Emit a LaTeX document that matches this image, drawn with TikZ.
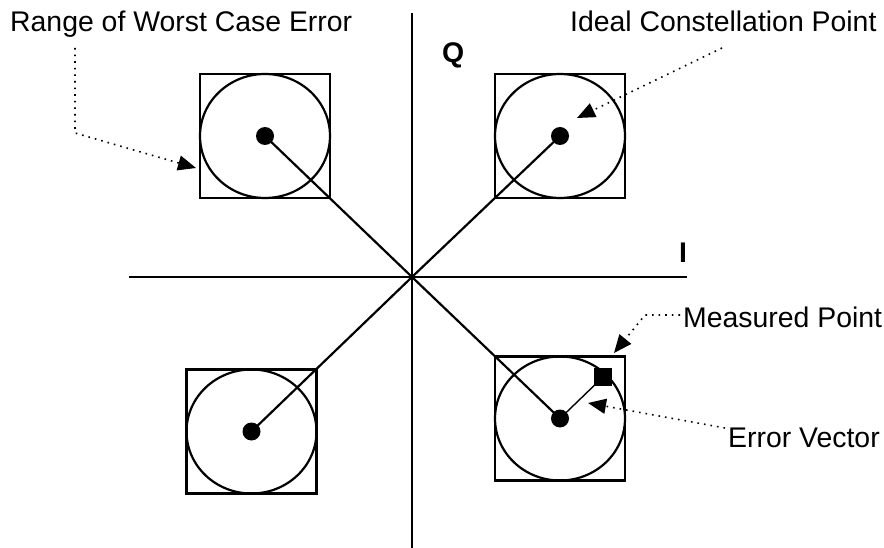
\documentclass[tikz,border=0pt]{standalone}
\usepackage{fontspec}
\setmainfont{Liberation Sans}
\usetikzlibrary{arrows.meta}
\begin{document}
\begin{tikzpicture}[x=1pt,y=-1pt,
  lbl/.style={anchor=base west,inner sep=0pt,font=\fontsize{28.4}{34}\selectfont},
  axis/.style={line width=2.2pt},
  box/.style={draw,line width=2.2pt,minimum width=130pt,minimum height=124pt,inner sep=0pt},
  ring/.style={line width=2.2pt},
  dotp/.style={circle,fill=black,minimum size=18pt,inner sep=0pt},
  note/.style={dash pattern=on 1.6pt off 5pt,line width=1.6pt,-{Triangle[length=18pt,width=15pt]}},
  radial/.style={line width=2.2pt}]
\useasboundingbox (0,0) rectangle (884,548);
% axes
\coordinate (O) at (412,277);
\coordinate (vt) at (412,13);
\coordinate (vb) at (412,548);
\coordinate (hl) at (129,277);
\coordinate (hr) at (687,277);
\draw[axis] (vt) -- (vb);
\draw[axis] (hl) -- (hr);
\node[lbl,font=\fontsize{28.4}{34}\selectfont\bfseries] (Q) at (442,63) {Q};
\node[lbl,font=\fontsize{28.4}{34}\selectfont\bfseries] (I) at (679,263) {I};
% constellation boxes
\node[box] (bTL) at (265,136) {};
\node[box] (bTR) at (560,136) {};
\node[box] (bBR) at (560,418.5) {};
\node[box] (bBL) at (251.5,431.5) {};
\foreach \b in {bTL,bTR,bBR,bBL}{\draw[ring] (\b.center) ellipse [x radius=65, y radius=62];}
% radial lines
\foreach \b in {bTL,bTR,bBR,bBL}{\draw[radial] (O) -- (\b.center);}
% ideal points
\node[dotp] (pTL) at (bTL.center) {};
\node[dotp] (pTR) at (bTR.center) {};
\node[dotp] (pBR) at (bBR.center) {};
\node[dotp] (pBL) at (bBL.center) {};
% measured point and error vector
\node[fill=black,minimum size=18pt,inner sep=0pt] (mp) at (603,377) {};
\draw[line width=1.4pt] (pBR.center) -- (mp.center);
% labels
\node[lbl] (tRange) at (10,32) {Range of Worst Case Error};
\node[lbl] (tIdeal) at (570,32) {Ideal Constellation Point};
\node[lbl] (tMeas) at (683,327) {Measured Point};
\node[lbl] (tErr) at (728,447) {Error Vector};
% annotation arrows
\coordinate (r0) at (75,48);
\coordinate (r1) at (75,133);
\coordinate (r2) at (196,168);
\draw[note] (r0) -- (r1) -- (r2);
\coordinate (i0) at (722,48);
\coordinate (i1) at (577,118);
\draw[note] (i0) -- (i1);
\coordinate (m0) at (680,315);
\coordinate (m1) at (645,315);
\coordinate (m2) at (614,353);
\draw[note] (m0) -- (m1) -- (m2);
\coordinate (e0) at (725,428);
\coordinate (e1) at (588,403);
\draw[note] (e0) -- (e1);
\end{tikzpicture}
\end{document}
